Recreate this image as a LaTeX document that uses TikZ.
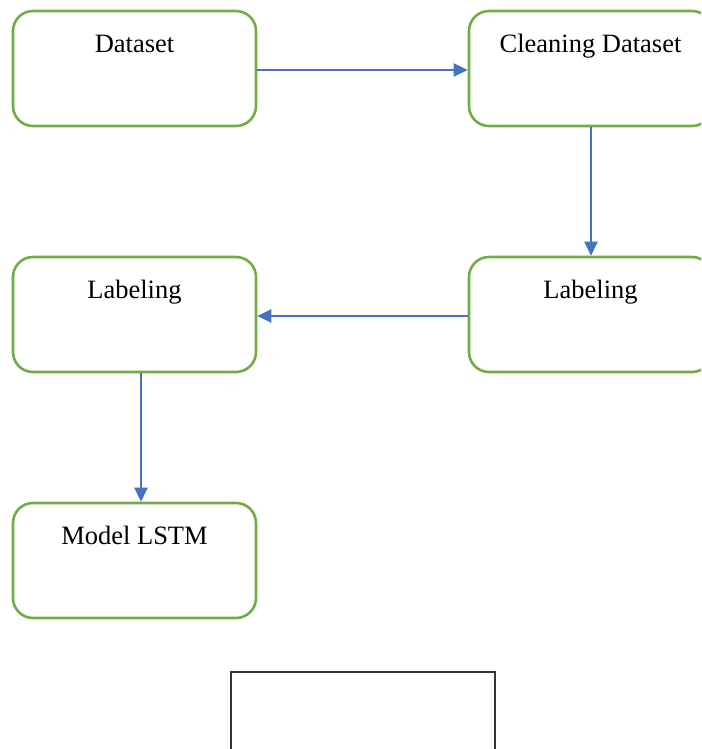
\documentclass[tikz,border=0pt]{standalone}
\usepackage{fontspec}
\setmainfont{Liberation Serif}
\usetikzlibrary{arrows.meta}
\definecolor{boxgreen}{HTML}{70AD47}
\definecolor{flowblue}{HTML}{4472C4}
\tikzset{
  stagebox/.style={draw=boxgreen, line width=2.6pt, rounded corners=20pt,
    minimum width=243pt, minimum height=115pt, inner sep=0pt, fill=white},
  stagetext/.style={anchor=base, inner sep=0pt, font=\fontsize{26.5}{31}\selectfont},
  flow/.style={draw=flowblue, line width=2.4pt, -{Triangle[length=14pt,width=13pt]}},
  plainbox/.style={draw=black!80, line width=1.5pt, minimum width=264pt,
    minimum height=100pt, inner sep=0pt, anchor=north west}
}
\begin{document}
\begin{tikzpicture}[x=1pt,y=-1pt]
  \useasboundingbox (0,0) rectangle (701,749);
  \clip (0,0) rectangle (701,749);
  \fill[white] (0,0) rectangle (701,749);

  % stages
  \node[stagebox] (data)  at (134.5,68.5)  {};
  \node[stagebox] (clean) at (590.5,68.5)  {};
  \node[stagebox] (labR)  at (590.5,314.5) {};
  \node[stagebox] (labL)  at (134.5,314.5) {};
  \node[stagebox] (lstm)  at (134.5,560.5) {};

  \node[stagetext] (tdata)  at ([yshift=-42.5pt]data.north)  {Dataset};
  \node[stagetext] (tclean) at ([yshift=-42.5pt]clean.north) {Cleaning Dataset};
  \node[stagetext] (tlabR)  at ([yshift=-42.5pt]labR.north)  {Labeling};
  \node[stagetext] (tlabL)  at ([yshift=-42.5pt]labL.north)  {Labeling};
  \node[stagetext] (tlstm)  at ([yshift=-42.5pt]lstm.north)  {Model LSTM};

  % empty frame at the bottom
  \node[plainbox] (frame) at (230,671) {};

  % connectors
  \draw[flow] ([yshift=-1.5pt]data.east) -- ([yshift=-1.5pt]clean.west);
  \draw[flow] ([xshift=0.5pt]clean.south) -- ([xshift=0.5pt]labR.north);
  \draw[flow] ([yshift=-1.5pt]labR.west) -- ([yshift=-1.5pt]labL.east);
  \draw[flow] ([xshift=6.5pt]labL.south) -- ([xshift=6.5pt]lstm.north);
\end{tikzpicture}
\end{document}
